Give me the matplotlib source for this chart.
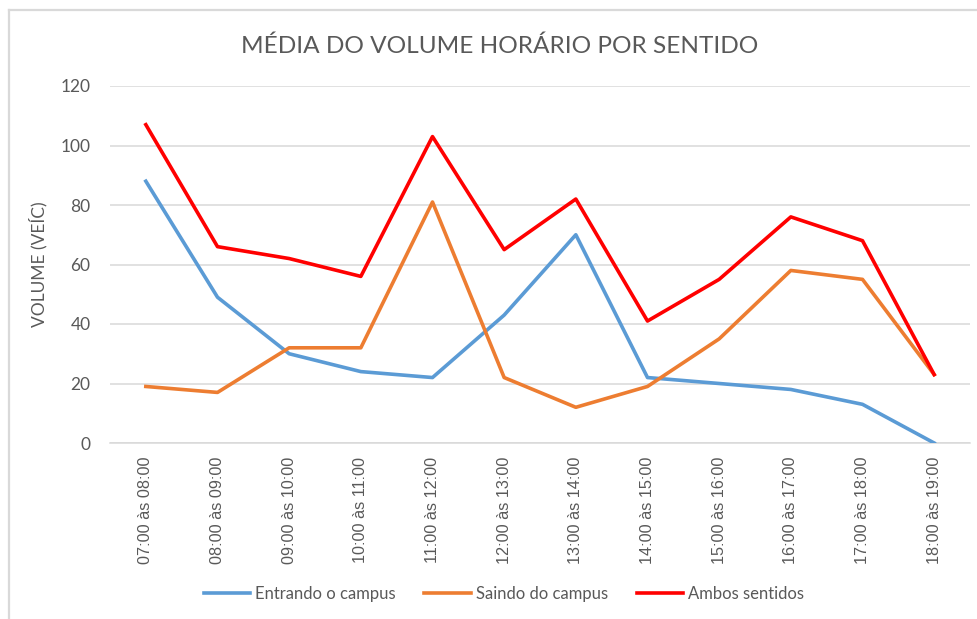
import matplotlib
matplotlib.use("Agg")
import matplotlib.pyplot as plt
from matplotlib.lines import Line2D

# ---- data ----
periods = [
    "07:00 às 08:00", "08:00 às 09:00", "09:00 às 10:00", "10:00 às 11:00",
    "11:00 às 12:00", "12:00 às 13:00", "13:00 às 14:00", "14:00 às 15:00",
    "15:00 às 16:00", "16:00 às 17:00", "17:00 às 18:00", "18:00 às 19:00",
]
entrando = [88, 49, 30, 24, 22, 43, 70, 22, 20, 18, 13, 0]
saindo = [19, 17, 32, 32, 81, 22, 12, 19, 35, 58, 55, 23]
ambos = [107, 66, 62, 56, 103, 65, 82, 41, 55, 76, 68, 23]
y_ticks = [0, 20, 40, 60, 80, 100, 120]

TEXT = "#595959"
GRID = "#D9D9D9"

W, H = 977, 619
fig = plt.figure(figsize=(W / 100, H / 100), dpi=100)
fig.patch.set_facecolor("white")

# light chart-area border (top and left edges visible in the reference)
fig.add_artist(Line2D([9 / W, 9 / W], [0, 1 - 9.5 / H], color=GRID, lw=1.6,
                      transform=fig.transFigure))
fig.add_artist(Line2D([9 / W, 1], [1 - 9.5 / H, 1 - 9.5 / H], color=GRID, lw=1.6,
                      transform=fig.transFigure))

ax = fig.add_axes([110 / W, 1 - 443 / H, 860 / W, 357 / H])
x = list(range(len(periods)))

ax.plot(x, entrando, color="#5B9BD5", lw=2.6, label="Entrando o campus",
        solid_joinstyle="round", zorder=3)
ax.plot(x, saindo, color="#ED7D31", lw=2.6, label="Saindo do campus",
        solid_joinstyle="round", zorder=3)
ax.plot(x, ambos, color="#FF0000", lw=2.6, label="Ambos sentidos",
        solid_joinstyle="round", zorder=4)

ax.set_xlim(-0.5, len(periods) - 0.5)
ax.set_ylim(0, 120)
ax.set_yticks(y_ticks)
ax.set_yticklabels([str(v) for v in y_ticks], fontsize=12.5, color=TEXT,
                   family="Lato")
ax.set_xticks(x)
ax.set_xticklabels(periods, rotation=90, fontsize=11.7, color=TEXT,
                   family="Liberation Sans")
ax.tick_params(axis="both", length=0)
ax.tick_params(axis="y", pad=14)
ax.tick_params(axis="x", pad=10)

ax.grid(axis="y", color=GRID, lw=1.1)
ax.set_axisbelow(True)
for side in ("top", "right", "left"):
    ax.spines[side].set_visible(False)
ax.spines["bottom"].set_color(GRID)
ax.spines["bottom"].set_linewidth(1.1)

ax.set_ylabel("VOLUME (VEÍC)", fontsize=12.5, color=TEXT, family="Lato",
              labelpad=12)
ax.yaxis.set_label_coords(-63 / 860, 0.5)

fig.text(500 / W, 1 - 46 / H, "MÉDIA DO VOLUME HORÁRIO POR SENTIDO",
         ha="center", va="center", fontsize=17.6, color=TEXT, family="Lato",
         fontweight="normal")

fig.legend(loc="center", bbox_to_anchor=(504 / W, 1 - 594 / H), ncol=3,
           frameon=False, labelcolor=TEXT, handlelength=2.8,
           handletextpad=0.3, columnspacing=1.7,
           prop={"family": "Lato", "size": 12})

fig.savefig("out.png", dpi=100)
